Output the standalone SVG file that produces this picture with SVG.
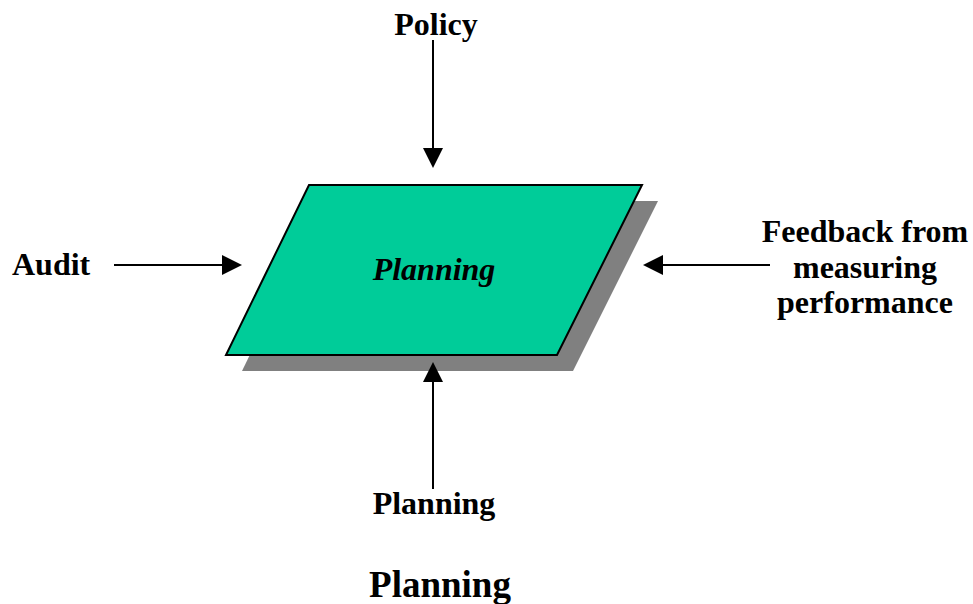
<svg xmlns="http://www.w3.org/2000/svg" width="973" height="604" viewBox="0 0 973 604">
<style>
text{font-family:"Liberation Serif","Times New Roman",serif;font-weight:bold;fill:#000}
.c{stroke:#000;stroke-width:2;fill:none}
.h{fill:#000}
</style>
<rect width="973" height="604" fill="#fff"/>
<g id="planning-node">
<polygon points="325,201 658,201 573,371 242,371" fill="#808080"/>
<polygon points="309,185 642,185 557,355 226,355" fill="#00CC99" stroke="#000" stroke-width="2"/>
<text x="434" y="280" text-anchor="middle" font-size="32" font-style="italic">Planning</text>
</g>
<g id="connectors">
<line class="c" x1="433" y1="40" x2="433" y2="150"/>
<polygon class="h" points="423,148 443,148 433,168"/>
<line class="c" x1="114" y1="265" x2="224" y2="265"/>
<polygon class="h" points="222,255 222,275 242,265"/>
<line class="c" x1="661" y1="265" x2="770" y2="265"/>
<polygon class="h" points="663,255 663,275 643,265"/>
<line class="c" x1="433" y1="380" x2="433" y2="489"/>
<polygon class="h" points="423,382 443,382 433,362"/>
</g>
<g id="policy"><text x="436" y="35" text-anchor="middle" font-size="32">Policy</text></g>
<g id="audit"><text x="12" y="275" font-size="32">Audit</text></g>
<g id="feedback">
<text x="865" y="242" text-anchor="middle" font-size="32">Feedback from</text>
<text x="865" y="278" text-anchor="middle" font-size="32">measuring</text>
<text x="865" y="313" text-anchor="middle" font-size="32">performance</text>
</g>
<g id="planning-input"><text x="434" y="514" text-anchor="middle" font-size="32">Planning</text></g>
<g id="title"><text x="440" y="597" text-anchor="middle" font-size="37">Planning</text></g>
</svg>
